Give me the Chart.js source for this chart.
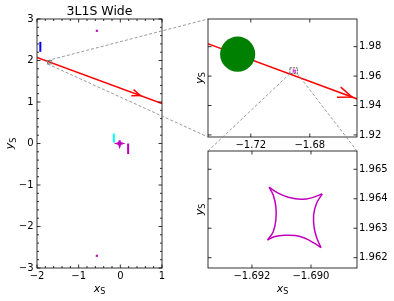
<!DOCTYPE html>
<html>
<head>
<meta charset="utf-8">
<script src="https://cdn.jsdelivr.net/npm/chart.js@4.4.1/dist/chart.umd.min.js"></script>
<style>
html,body{margin:0;padding:0;background:#ffffff;}
#wrap{position:relative;width:394px;height:301px;overflow:hidden;background:#ffffff;}
#wrap canvas{position:absolute;left:0;top:0;}
</style>
</head>
<body>
<div id="wrap">
<canvas id="mainChart" width="394" height="301"></canvas>
<canvas id="zoomChart" width="394" height="301"></canvas>
<canvas id="closeChart" width="394" height="301"></canvas>
</div>
<script>
// ---------------- data ----------------
const titleText = '3L1S Wide';
const trajectoryX = [-2.0, 1.0];
const trajectoryY = [2.075, 0.963];
const arrowMainX = 0.48;
const arrowZoomX = -1.6514;

const sourceX = [-1.7289];
const sourceY = [1.9749];
const sourceRho = 0.0119;

const causticTopX = [-1.69142, -1.69111, -1.69077, -1.69031, -1.68998, -1.68962];
const causticTopY = [1.96439, 1.96419, 1.96405, 1.96398, 1.96403, 1.96416];
const causticRightX = [-1.68962, -1.68981, -1.68991, -1.68989, -1.68980, -1.68966];
const causticRightY = [1.96416, 1.96385, 1.96345, 1.96300, 1.96266, 1.96234];
const causticBottomX = [-1.69147, -1.69122, -1.69088, -1.69054, -1.69020, -1.68992, -1.68966];
const causticBottomY = [1.96260, 1.96272, 1.96276, 1.96275, 1.96266, 1.96251, 1.96234];
const causticLeftX = [-1.69142, -1.69128, -1.69119, -1.69119, -1.69128, -1.69147];
const causticLeftY = [1.96439, 1.96413, 1.96373, 1.96328, 1.96288, 1.96260];

const blueCausticX = [-1.92, -1.92];
const blueCausticY = [2.21, 2.45];
const cyanCausticX = [-0.156, -0.156];
const cyanCausticY = [0.02, 0.24];
const centralCausticX = [-0.017, 0.0, 0.053, 0.0, -0.017, -0.034, -0.087, -0.034, -0.017];
const centralCausticY = [0.07, 0.017, 0.0, -0.017, -0.07, -0.017, 0.0, 0.017, 0.07];
const magentaCausticX = [0.187, 0.187];
const magentaCausticY = [0.0, -0.25];
const magentaDotX = [-0.564, -0.564];
const magentaDotY = [2.716, -2.706];

const mainXRange = [-2, 1];
const mainYRange = [-3, 3];
const mainXTicks = [-2, -1, 0, 1];
const mainYTicks = [-3, -2, -1, 0, 1, 2, 3];
const zoomXRange = [-1.749, -1.648];
const zoomYRange = [1.9186, 1.9988];
const zoomXTicks = [-1.72, -1.68];
const zoomYTicks = [1.92, 1.94, 1.96, 1.98];
const closeXRange = [-1.69349, -1.68844];
const closeYRange = [1.96165, 1.96562];
const closeXTicks = [-1.692, -1.690];
const closeYTicks = [1.962, 1.963, 1.964, 1.965];

// ---------------- styling helpers ----------------
const FONT = 'DejaVu Sans';
const RED = '#ff0000', GREEN = '#008000', MAGENTA = '#bf00bf', CYAN = '#00ffff', BLUE = '#0000ff';
const zip = (xs, ys) => xs.map((x, i) => ({x: x, y: ys[i]}));
const fmt = d => v => (v < -1e-12 ? '\u2212' : '') + Math.abs(v).toFixed(d);

function lineDS(xs, ys, color, width, extra) {
  return Object.assign({data: zip(xs, ys), showLine: true, borderColor: color, backgroundColor: color,
    borderWidth: width, pointRadius: 0, pointHoverRadius: 0, tension: 0, fill: false}, extra || {});
}
function causticDS(width) {
  return [[causticTopX, causticTopY], [causticRightX, causticRightY], [causticBottomX, causticBottomY], [causticLeftX, causticLeftY]]
    .map(p => lineDS(p[0], p[1], MAGENTA, width, {tension: 0.35}));
}
function sourceRadius(ctx) {
  const s = ctx.chart.scales.x;
  const i = ctx.dataIndex || 0;
  return Math.abs(s.getPixelForValue(sourceX[i] + sourceRho) - s.getPixelForValue(sourceX[i]));
}
function sourceDS() {
  return {data: zip(sourceX, sourceY), showLine: false, backgroundColor: GREEN, borderColor: GREEN,
    pointBorderWidth: 0, pointRadius: sourceRadius, pointHoverRadius: sourceRadius};
}
function trajectoryDS() { return lineDS(trajectoryX, trajectoryY, RED, 1.5); }

function axis(pos, range, ticks, dec, size, pad) {
  const horiz = pos === 'bottom';
  return {
    type: 'linear', position: pos, min: range[0], max: range[1], bounds: 'data',
    afterBuildTicks: s => { s.ticks = ticks.map(v => ({value: v})); },
    afterFit: s => { if (horiz) s.height = size; else s.width = size; },
    ticks: {callback: fmt(dec), font: {family: FONT, size: 10}, color: '#000', padding: pad,
      autoSkip: false, maxRotation: 0, minRotation: 0},
    grid: {display: false, drawTicks: false},
    border: {display: false}
  };
}

function drawMathLabel(ctx, cx, cy, base, sub, rotated) {
  ctx.save();
  ctx.translate(cx, cy);
  if (rotated) ctx.rotate(-Math.PI / 2);
  const fMain = 'italic 11px "' + FONT + '"';
  const fSub = '8px "' + FONT + '"';
  ctx.font = fMain; const w1 = ctx.measureText(base).width;
  ctx.font = fSub; const w2 = ctx.measureText(sub).width;
  const x0 = -(w1 + w2) / 2;
  ctx.fillStyle = '#000'; ctx.textBaseline = 'alphabetic'; ctx.textAlign = 'left';
  ctx.font = fMain; ctx.fillText(base, x0, 0);
  ctx.font = fSub; ctx.fillText(sub, x0 + w1, 2.5);
  ctx.restore();
}

function drawArrow(chart, ax, size) {
  const ctx = chart.ctx, xs = chart.scales.x, ys = chart.scales.y;
  const t = (ax - trajectoryX[0]) / (trajectoryX[1] - trajectoryX[0]);
  const ay = trajectoryY[0] + t * (trajectoryY[1] - trajectoryY[0]);
  const px = xs.getPixelForValue(ax), py = ys.getPixelForValue(ay);
  const dx = xs.getPixelForValue(trajectoryX[1]) - xs.getPixelForValue(trajectoryX[0]);
  const dy = ys.getPixelForValue(trajectoryY[1]) - ys.getPixelForValue(trajectoryY[0]);
  const ang = Math.atan2(dy, dx), half = 21 * Math.PI / 180;
  ctx.save();
  ctx.beginPath();
  ctx.moveTo(px - size * Math.cos(ang - half), py - size * Math.sin(ang - half));
  ctx.lineTo(px, py);
  ctx.lineTo(px - size * Math.cos(ang + half), py - size * Math.sin(ang + half));
  ctx.strokeStyle = RED; ctx.lineWidth = 1.5; ctx.lineJoin = 'miter';
  ctx.stroke();
  ctx.restore();
}

function frameAndTicks(chart, xTicks, yTicks, minorDiv) {
  const ctx = chart.ctx, a = chart.chartArea, xs = chart.scales.x, ys = chart.scales.y;
  ctx.save();
  ctx.strokeStyle = '#000'; ctx.lineWidth = 0.8;
  ctx.strokeRect(a.left, a.top, a.right - a.left, a.bottom - a.top);
  const drawX = (v, len) => {
    const p = xs.getPixelForValue(v);
    ctx.beginPath();
    ctx.moveTo(p, a.bottom); ctx.lineTo(p, a.bottom - len);
    ctx.moveTo(p, a.top); ctx.lineTo(p, a.top + len);
    ctx.stroke();
  };
  const drawY = (v, len) => {
    const p = ys.getPixelForValue(v);
    ctx.beginPath();
    ctx.moveTo(a.left, p); ctx.lineTo(a.left + len, p);
    ctx.moveTo(a.right, p); ctx.lineTo(a.right - len, p);
    ctx.stroke();
  };
  xTicks.forEach(v => drawX(v, 3.5));
  yTicks.forEach(v => drawY(v, 3.5));
  if (minorDiv) {
    for (let i = 0; i < xTicks.length - 1; i++)
      for (let k = 1; k < minorDiv; k++) drawX(xTicks[i] + (xTicks[i + 1] - xTicks[i]) * k / minorDiv, 2);
    for (let i = 0; i < yTicks.length - 1; i++)
      for (let k = 1; k < minorDiv; k++) drawY(yTicks[i] + (yTicks[i + 1] - yTicks[i]) * k / minorDiv, 2);
  }
  ctx.restore();
}

function baseOptions(padding, xAxis, yAxis) {
  return {
    responsive: false, maintainAspectRatio: false, animation: false, devicePixelRatio: 1, events: [],
    layout: {padding: padding},
    plugins: {legend: {display: false}, tooltip: {enabled: false}, title: {display: false}},
    scales: {x: xAxis, y: yAxis}
  };
}

// ---------------- main panel ----------------
const mainChart = new Chart(document.getElementById('mainChart'), {
  type: 'scatter',
  data: {datasets: [
    lineDS(blueCausticX, blueCausticY, BLUE, 2),
    lineDS(cyanCausticX, cyanCausticY, CYAN, 2),
    lineDS(centralCausticX, centralCausticY, MAGENTA, 1.8),
    lineDS(magentaCausticX, magentaCausticY, MAGENTA, 2),
    {data: zip(magentaDotX, magentaDotY), showLine: false, pointStyle: 'rect', pointRadius: 1.5,
      pointHoverRadius: 1.5, backgroundColor: MAGENTA, borderColor: MAGENTA, pointBorderWidth: 0},
    sourceDS(),
    trajectoryDS(),
    ...causticDS(1)
  ]},
  options: baseOptions({left: 0, top: 19, right: 232, bottom: 0},
    axis('bottom', mainXRange, mainXTicks, 0, 33, 2),
    axis('left', mainYRange, mainYTicks, 0, 37, 3.5)),
  plugins: [{
    id: 'mainDecor',
    afterDatasetsDraw(chart) { drawArrow(chart, arrowMainX, 9); },
    afterDraw(chart) {
      frameAndTicks(chart, mainXTicks, mainYTicks, 5);
      const ctx = chart.ctx, a = chart.chartArea;
      ctx.save();
      ctx.font = '12.5px "' + FONT + '"'; ctx.fillStyle = '#000';
      ctx.textAlign = 'center'; ctx.textBaseline = 'alphabetic';
      ctx.fillText(titleText, (a.left + a.right) / 2, 15);
      ctx.restore();
      drawMathLabel(ctx, (a.left + a.right) / 2, 291.5, 'x', 'S', false);
      drawMathLabel(ctx, 13, (a.top + a.bottom) / 2, 'y', 'S', true);
    }
  }]
});

// ---------------- zoomed panel ----------------
const zoomChart = new Chart(document.getElementById('zoomChart'), {
  type: 'scatter',
  data: {datasets: [
    sourceDS(),
    trajectoryDS(),
    ...causticDS(1)
  ]},
  options: baseOptions({left: 208, top: 19, right: 0, bottom: 144},
    axis('bottom', zoomXRange, zoomXTicks, 2, 20, 2),
    axis('right', zoomYRange, zoomYTicks, 2, 37, 2)),
  plugins: [{
    id: 'zoomDecor',
    afterDatasetsDraw(chart) { drawArrow(chart, arrowZoomX, 15); },
    afterDraw(chart) {
      frameAndTicks(chart, zoomXTicks, zoomYTicks, 0);
      const a = chart.chartArea;
      drawMathLabel(chart.ctx, 202.5, (a.top + a.bottom) / 2, 'y', 'S', true);
    }
  }]
});

// ---------------- close-up panel ----------------
const closeChart = new Chart(document.getElementById('closeChart'), {
  type: 'scatter',
  data: {datasets: causticDS(1.5)},
  options: baseOptions({left: 208, top: 151, right: 0, bottom: 0},
    axis('bottom', closeXRange, closeXTicks, 3, 33, 2),
    axis('right', closeYRange, closeYTicks, 3, 37, 2)),
  plugins: [{
    id: 'closeDecor',
    afterDraw(chart) {
      frameAndTicks(chart, closeXTicks, closeYTicks, 0);
      const ctx = chart.ctx, a = chart.chartArea;
      drawMathLabel(ctx, (a.left + a.right) / 2, 291.5, 'x', 'S', false);
      drawMathLabel(ctx, 202.5, (a.top + a.bottom) / 2, 'y', 'S', true);
      // inset boxes and connectors, positioned through each chart's scales
      const m = mainChart.scales, z = zoomChart.scales, za = zoomChart.chartArea;
      const mb = {l: m.x.getPixelForValue(zoomXRange[0]), r: m.x.getPixelForValue(zoomXRange[1]),
                  t: m.y.getPixelForValue(zoomYRange[1]), b: m.y.getPixelForValue(zoomYRange[0])};
      const zb = {l: z.x.getPixelForValue(closeXRange[0]), r: z.x.getPixelForValue(closeXRange[1]),
                  t: z.y.getPixelForValue(closeYRange[1]), b: z.y.getPixelForValue(closeYRange[0])};
      ctx.save();
      ctx.strokeStyle = '#808080'; ctx.lineWidth = 1;
      ctx.strokeRect(mb.l, mb.t, mb.r - mb.l, mb.b - mb.t);
      ctx.strokeStyle = '#555555'; ctx.setLineDash([2, 1]);
      ctx.strokeRect(zb.l, zb.t, zb.r - zb.l, zb.b - zb.t);
      ctx.strokeStyle = '#808080'; ctx.lineWidth = 0.8; ctx.setLineDash([3, 2]);
      ctx.beginPath();
      ctx.moveTo(mb.l, mb.t); ctx.lineTo(za.left, za.top);
      ctx.moveTo(mb.l, mb.b); ctx.lineTo(za.left, za.bottom);
      ctx.stroke();
      ctx.beginPath();
      ctx.moveTo(zb.l, zb.b); ctx.lineTo(a.left, a.top);
      ctx.moveTo(zb.r, zb.b); ctx.lineTo(a.right, a.top);
      ctx.stroke();
      ctx.restore();
    }
  }]
});
</script>
</body>
</html>
